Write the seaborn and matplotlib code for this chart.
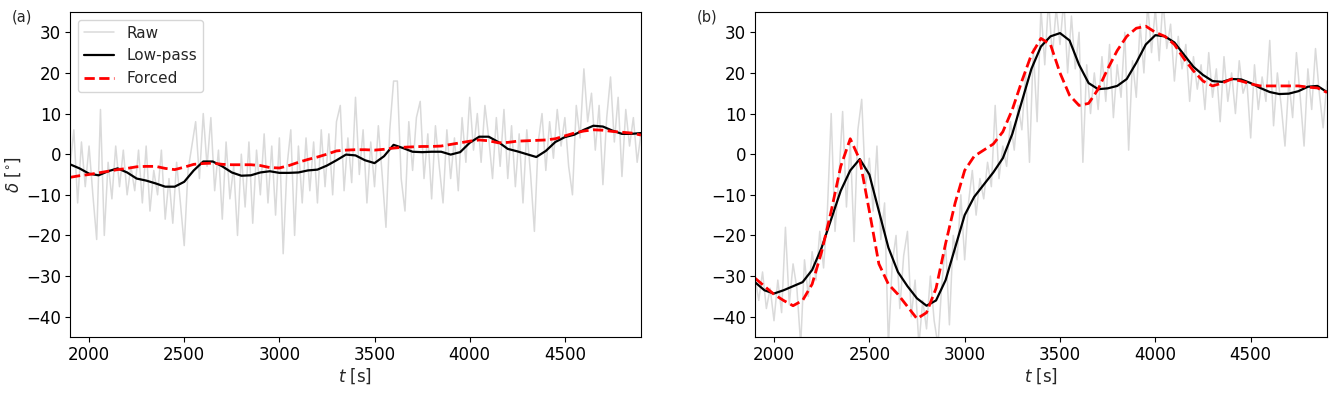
import numpy as np
import pandas as pd
import matplotlib
matplotlib.use("Agg")
import matplotlib.pyplot as plt
import seaborn as sns

# ---------------------------
# Data
# ---------------------------
t_raw = np.arange(1900, 4901, 20)     # raw samples every 20 s
t_smooth = np.arange(1900, 4901, 50)  # filtered curves every 50 s

raw_a = [
    -3, 6, -12, 3, -8, 2, -10, -21, 11, -20,
    -2, -11, 2, -8, 1, -10, -3, -9, 1, -12,
    2, -14, -4, -10, 1, -16, -6, -17, -2, -12,
    -22.5, -4, 2, 8, -6, 10, -3, 9, -9, 1,
    -16, 3, -11, -3, -20, 0, -13, 3, -17, 1,
    -10, 5, -12, 2, -15, 4, -24.5, -3, 6, -20,
    2, -12, 4, -9, 3, -12, 6, -8, 5, -10,
    8, 12, -9, 4, -7, 14, -5, 6, -12, 3,
    -8, 7, -5, -18, 6, 18, 18, -6, -14, 8,
    -4, 9, 13, -6, 5, -11, 7, -3, -12, 6,
    -6, 4, -9, 9, -2, 14, 1, 10, -2, 12,
    4, -6, 9, -3, 11, -6, 7, -8, 5, -12,
    6, -5, -19, 3, 10, -4, 8, -1, 11, 2,
    9, -3, -10, 12, 4, 21, 8, 15, 1, 12,
    -7.5, 9, 19, 3, 14, -5.5, 11, 2, 9, -2,
    5,
]
lowpass_a = [
    -2.5, -3.5, -4.8, -5.2, -4.2, -3.5, -4.5, -6.0, -6.5, -7.2,
    -8.0, -8.0, -6.8, -4.0, -1.8, -1.8, -3.0, -4.5, -5.3, -5.2,
    -4.5, -4.2, -4.6, -4.6, -4.5, -4.0, -3.8, -2.8, -1.5, -0.1,
    -0.3, -1.5, -2.2, -0.5, 2.3, 1.5, 0.6, 0.5, 0.6, 0.6,
    -0.1, 0.5, 2.8, 4.3, 4.3, 3.0, 1.3, 0.7, 0.0, -0.7,
    0.8, 3.0, 4.2, 4.8, 6.0, 7.0, 6.8, 5.8, 5.0, 5.0,
    5.2,
]
forced_a = [
    -5.7, -5.3, -5.0, -4.6, -4.2, -3.8, -3.5, -3.1, -3.0, -3.0,
    -3.5, -3.8, -3.2, -2.5, -2.3, -2.2, -2.5, -2.6, -2.6, -2.6,
    -2.8, -3.3, -3.4, -2.8, -2.0, -1.3, -0.7, 0.0, 0.8, 1.0,
    1.1, 1.1, 1.0, 1.2, 1.5, 1.7, 1.8, 1.9, 1.9, 2.0,
    2.4, 2.8, 3.2, 3.5, 3.3, 2.8, 2.9, 3.2, 3.3, 3.4,
    3.5, 3.8, 4.5, 5.2, 5.7, 6.0, 5.9, 5.6, 5.4, 5.2,
    4.7,
]

raw_b = [
    -30, -36, -29, -38, -33, -41, -31, -39, -18, -37,
    -27, -33, -47, -26, -35, -24, -31, -19, -28, -14,
    10, -19, -6, 10.5, -13, 3, -21.5, 6, 13.5, -8,
    -1, -14, 2, -21, -12, -47, -27, -20, -38, -25,
    -19, -40, -31, -47, -36, -43, -30, -41, -47, -32,
    -22, -42, -20, -26, -10, -26, -12, -4, -15, -6,
    -11, -2, -8, 12, -6, 2, -3, 8, 1, 12,
    6, 20, -2, 26, 8, 36, 22, 38, 24, 36,
    27, 38, 20, 34, 21, 30, -2, 22, 10, 20,
    11, 24, 13, 27, 9, 22, 14, 30, 1, 23,
    14, 32, 20, 37, 25, 36, 23, 38, 26, 32,
    18, 29, 21, 27, 13, 24, 16, 22, 11, 25,
    14, 21, 8, 24, 13, 20, 10, 23, 15, 18,
    4, 22, 11, 19, 13, 28, 7, 20, 12, 2,
    18, 9, 25, 14, 2, 21, 11, 26, 15, 6.5,
    18,
]
lowpass_b = [
    -31.5, -33.5, -34.3, -33.5, -32.5, -31.5, -28.5, -23.0, -16.0, -9.0,
    -4.0, -1.2, -5.0, -14.0, -23.0, -29.0, -32.5, -35.5, -37.3, -36.0,
    -31.0, -23.0, -15.0, -10.5, -7.5, -4.5, -1.0, 5.0, 13.0, 21.0,
    26.5, 29.0, 29.8, 28.0, 22.0, 17.5, 16.0, 16.2, 16.8, 18.5,
    22.5, 27.0, 29.3, 29.0, 27.5, 24.5, 21.5, 19.5, 18.0, 17.8,
    18.5, 18.4, 17.5, 16.3, 15.3, 14.8, 14.9, 15.5, 16.6, 16.8,
    15.3,
]
forced_b = [
    -30.5, -32.5, -34.5, -36.0, -37.3, -36.0, -32.0, -24.0, -14.0, -3.0,
    3.8, -1.4, -14.0, -27.0, -32.0, -34.5, -37.5, -40.5, -39.0, -33.0,
    -22.0, -12.0, -4.0, -0.5, 1.0, 2.5, 5.5, 11.0, 18.0, 24.5,
    28.5, 27.0, 20.0, 14.5, 12.0, 12.5, 16.0, 21.0, 25.5, 29.0,
    31.0, 31.5, 30.0, 29.0, 27.0, 23.5, 20.5, 18.0, 16.8, 17.5,
    18.5, 18.0, 17.3, 16.8, 16.8, 16.8, 16.8, 16.8, 16.5, 16.3,
    15.2,
]

# ---------------------------
# Figure
# ---------------------------
sns.set_style("ticks")
plt.rcParams["font.family"] = ["DejaVu Sans"]
plt.rcParams["axes.edgecolor"] = "black"
plt.rcParams["xtick.color"] = "black"
plt.rcParams["ytick.color"] = "black"

fig = plt.figure(figsize=(13.39, 3.93), dpi=100)
ax_a = fig.add_axes([0.0523, 0.1425, 0.4264, 0.827])
ax_b = fig.add_axes([0.5638, 0.1425, 0.4272, 0.827])

panels = [
    (ax_a, raw_a, lowpass_a, forced_a),
    (ax_b, raw_b, lowpass_b, forced_b),
]
for ax, raw, lp, fc in panels:
    sns.lineplot(x=t_raw, y=raw, ax=ax, color="#dadada", lw=1.1, label="Raw",
                 estimator=None, sort=False)
    sns.lineplot(x=t_smooth, y=lp, ax=ax, color="black", lw=1.6, label="Low-pass",
                 estimator=None, sort=False)
    sns.lineplot(x=t_smooth, y=fc, ax=ax, color="red", lw=2.0, label="Forced",
                 estimator=None, sort=False, linestyle="--")
    ax.set_xlim(1900, 4900)
    ax.set_ylim(-45, 35)
    ax.set_xticks([2000, 2500, 3000, 3500, 4000, 4500])
    ax.set_yticks([-40, -30, -20, -10, 0, 10, 20, 30])
    ax.tick_params(labelsize=12, pad=3)
    ax.set_xlabel("$t$ [s]", fontsize=12, labelpad=2)

ax_a.set_ylabel(r"$\delta$ [$^{\circ}$]", fontsize=12, labelpad=2)
ax_a.legend(loc="upper left", fontsize=11)
ax_b.get_legend().remove()

fig.text(12 / 1339, 1 - 17 / 393, "(a)", fontsize=10.5, va="center", ha="left")
fig.text(697 / 1339, 1 - 17 / 393, "(b)", fontsize=10.5, va="center", ha="left")

fig.savefig("out.png", dpi=100)
